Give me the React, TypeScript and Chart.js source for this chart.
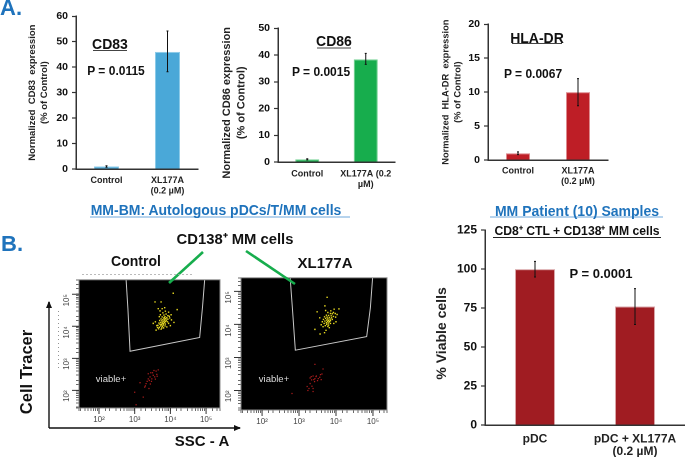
import React, { useEffect, useRef } from "react";
import { Chart, registerables } from "chart.js";

Chart.register(...registerables);

const FONT = '"Liberation Sans", Arial, sans-serif';

/* ---------- bar chart data ---------- */
const cd83Labels = ["Control", ["XL177A", "(0.2 µM)"]];
const cd83Values = [1, 46];
const cd83High = [1.3, 54.2];
const cd83Low = [0.7, 38.2];

const cd86Labels = ["Control", ["XL177A (0.2", "µM)"]];
const cd86Values = [1, 38.4];
const cd86High = [1.2, 40.6];
const cd86Low = [0.8, 36.5];

const hlaLabels = ["Control", ["XL177A", "(0.2 µM)"]];
const hlaValues = [1, 10];
const hlaHigh = [1.2, 12];
const hlaLow = [0.8, 8];

const viableLabels = ["pDC", ["pDC + XL177A", "(0.2 µM)"]];
const viableValues = [100, 76];
const viableHigh = [105, 87.5];
const viableLow = [95, 64.5];

/* ---------- flow cytometry data: [log10 SSC-A, log10 Cell Tracer] ---------- */
const controlGate = [[2.76, 5.45], [2.81, 4.55], [2.87, 3.22], [4.82, 3.65], [4.9, 4.6], [4.96, 5.45]];
const xlGate = [[2.76, 5.41], [2.82, 4.5], [2.9, 3.22], [4.83, 3.63], [4.93, 4.5], [4.99, 5.41]];

const controlYellow = [
  [4.08, 5.03], [3.57, 4.76], [3.74, 4.76], [4.19, 4.52], [3.66, 4.55], [3.77, 4.55], [3.52, 4.09], [3.6, 3.88],
  [3.74, 3.91], [3.84, 4.58], [3.71, 4.48], [3.86, 4.47], [3.95, 4.44], [3.79, 4.42], [3.88, 4.38], [3.72, 4.36],
  [3.82, 4.35], [3.93, 4.33], [4.02, 4.36], [3.85, 4.3], [3.77, 4.29], [3.9, 4.27], [3.98, 4.26], [3.82, 4.25],
  [3.87, 4.24], [3.74, 4.23], [3.93, 4.22], [3.79, 4.21], [3.84, 4.2], [3.89, 4.19], [4.03, 4.2], [3.7, 4.18],
  [3.76, 4.17], [3.82, 4.16], [3.87, 4.15], [3.92, 4.14], [3.79, 4.13], [3.73, 4.12], [3.84, 4.12], [3.68, 4.1],
  [3.77, 4.09], [3.81, 4.08], [3.86, 4.07], [3.95, 4.09], [3.71, 4.06], [3.75, 4.05], [3.8, 4.04], [3.65, 4.03],
  [3.73, 4.01], [3.78, 4.0], [3.85, 4.01], [3.69, 3.97], [3.76, 3.95], [3.62, 4.02], [3.81, 3.95], [3.67, 3.92],
  [4.1, 4.12], [4.0, 4.02], [3.58, 4.14], [3.9, 3.98], [3.97, 4.31], [3.69, 4.3], [3.64, 3.96], [3.83, 4.27],
];

const controlRed = [
  [3.66, 2.64], [3.6, 2.6], [3.45, 2.55], [3.38, 2.52], [3.62, 2.5], [3.43, 2.42], [3.52, 2.47], [3.48, 2.36],
  [3.38, 2.36], [3.32, 2.21], [3.15, 2.24], [3.3, 2.14], [3.44, 2.2], [3.4, 2.06], [3.0, 1.94], [3.24, 1.79],
  [3.04, 1.55], [3.56, 2.42], [3.5, 2.55], [3.41, 2.31], [3.35, 2.28], [3.47, 2.28], [3.58, 2.35], [3.28, 2.1],
  [3.54, 2.62], [3.63, 2.44],
];

const xlYellow = [
  [3.76, 4.82], [4.08, 4.47], [3.49, 4.38], [3.7, 4.56], [3.43, 3.85], [3.57, 3.71], [3.73, 3.82], [3.69, 3.75],
  [3.95, 4.46], [3.86, 4.41], [3.93, 4.36], [3.72, 4.42], [3.78, 4.36], [3.85, 4.33], [3.98, 4.33], [4.03, 4.3],
  [3.74, 4.28], [3.8, 4.27], [3.87, 4.26], [3.93, 4.24], [3.69, 4.23], [3.76, 4.22], [3.82, 4.21], [3.88, 4.2],
  [3.99, 4.22], [3.72, 4.18], [3.78, 4.17], [3.84, 4.16], [3.9, 4.15], [3.66, 4.15], [3.75, 4.13], [3.8, 4.12],
  [3.85, 4.11], [3.7, 4.1], [3.77, 4.09], [3.82, 4.08], [3.63, 4.08], [3.74, 4.05], [3.79, 4.04], [3.85, 4.03],
  [3.68, 4.03], [3.75, 4.0], [3.8, 3.98], [3.6, 3.99], [3.71, 3.96], [3.78, 3.94], [3.82, 3.9], [3.65, 3.93],
  [4.0, 4.08], [3.94, 4.03], [3.56, 4.2], [3.9, 4.32],
];

const xlRed = [
  [3.43, 2.79], [3.65, 2.65], [3.62, 2.5], [3.38, 2.44], [3.47, 2.44], [3.3, 2.38], [3.56, 2.4], [3.6, 2.33],
  [3.52, 2.36], [3.34, 2.32], [3.43, 2.36], [3.3, 2.21], [3.38, 2.06], [3.22, 2.12], [3.24, 2.0], [3.38, 1.97],
  [2.81, 1.91], [3.42, 2.27], [3.5, 2.3], [3.35, 2.13], [3.27, 2.06], [3.46, 2.42], [3.58, 2.48], [3.33, 2.42],
  [3.4, 2.33],
];

const toPoints = (rows: number[][]) => rows.map(([a, b]) => ({ x: 10 ** a, y: 10 ** b }));

const SUP: Record<number, string> = { 2: "10²", 3: "10³", 4: "10⁴", 5: "10⁵" };
const decade = (v: number) => {
  const e = Math.log10(v);
  return Math.abs(e - Math.round(e)) < 1e-6 ? Math.round(e) : null;
};

/* ---------- plugins ---------- */
const errorBars = (high: number[], low: number[]) => ({
  id: "errorBars",
  afterDatasetsDraw(chart: any) {
    const { ctx, scales } = chart;
    ctx.save();
    ctx.strokeStyle = "#111";
    ctx.lineWidth = 1;
    high.forEach((h, i) => {
      const x = scales.x.getPixelForTick(i);
      const y1 = scales.y.getPixelForValue(h);
      const y2 = scales.y.getPixelForValue(low[i]);
      ctx.beginPath();
      ctx.moveTo(x, y1);
      ctx.lineTo(x, y2);
      ctx.moveTo(x - 1, y1);
      ctx.lineTo(x + 1, y1);
      ctx.moveTo(x - 1, y2);
      ctx.lineTo(x + 1, y2);
      ctx.stroke();
    });
    ctx.restore();
  },
});

const flowFrame = {
  id: "flowFrame",
  beforeDatasetsDraw(chart: any) {
    const { ctx, chartArea: a } = chart;
    ctx.save();
    ctx.fillStyle = "#000";
    ctx.fillRect(a.left, a.top, a.right - a.left, a.bottom - a.top);
    ctx.restore();
  },
  afterDraw(chart: any) {
    const { ctx, chartArea: a, scales } = chart;
    ctx.save();
    ctx.strokeStyle = "#8a8a8a";
    ctx.lineWidth = 1;
    ctx.strokeRect(a.left, a.top, a.right - a.left, a.bottom - a.top);
    ctx.strokeStyle = "#333";
    ctx.beginPath();
    scales.x.ticks.forEach((t: any) => {
      if (decade(t.value) !== null) {
        const x = scales.x.getPixelForValue(t.value);
        ctx.moveTo(x, a.bottom);
        ctx.lineTo(x, a.bottom + 6);
      }
    });
    scales.y.ticks.forEach((t: any) => {
      if (decade(t.value) !== null) {
        const y = scales.y.getPixelForValue(t.value);
        ctx.moveTo(a.left, y);
        ctx.lineTo(a.left - 7, y);
      }
    });
    ctx.stroke();
    ctx.restore();
  },
};

/* ---------- builders ---------- */
type Box = { left: number; top: number; right: number; bottom: number };
const PAD_T = 10;
const PAD_R = 10;

function canvasStyle(b: Box, axisW: number, axisH: number): React.CSSProperties {
  return {
    position: "absolute",
    left: b.left - axisW,
    top: b.top - PAD_T,
    width: b.right - b.left + axisW + PAD_R,
    height: b.bottom - b.top + PAD_T + axisH,
  };
}

type BarSpec = {
  box: Box;
  axisW: number;
  axisH: number;
  labels: any[];
  values: number[];
  high: number[];
  low: number[];
  color: string;
  edge: string;
  yMax: number;
  step: number;
  title: string[];
  titleSize: number;
  tickSize: number;
  labelSize: number;
  labelLine: number;
  barPct: number;
  labelPad: number;
};

function BarPanel(s: BarSpec) {
  const ref = useRef<HTMLCanvasElement>(null);
  useEffect(() => {
    const c = ref.current!;
    const chart = new Chart(c, {
      type: "bar",
      data: {
        labels: s.labels,
        datasets: [
          {
            data: s.values,
            backgroundColor: s.color,
            borderColor: s.edge,
            borderWidth: 1,
            borderSkipped: "bottom",
            categoryPercentage: 1,
            barPercentage: s.barPct,
          },
        ],
      },
      options: {
        animation: false,
        responsive: false,
        devicePixelRatio: 2,
        layout: { padding: { top: PAD_T, right: PAD_R, left: 0, bottom: 0 } },
        plugins: { legend: { display: false }, tooltip: { enabled: false } },
        scales: {
          x: {
            grid: { display: false, drawTicks: false },
            border: { display: true, color: "#333", width: 1.5, z: 1 },
            afterFit: (sc: any) => {
              sc.height = s.axisH;
            },
            ticks: {
              color: "#222",
              font: { family: FONT, size: s.labelSize, weight: "bold", lineHeight: s.labelLine },
              padding: s.labelPad,
              maxRotation: 0,
              minRotation: 0,
              autoSkip: false,
            },
          },
          y: {
            min: 0,
            max: s.yMax,
            afterFit: (sc: any) => {
              sc.width = s.axisW;
            },
            grid: { drawOnChartArea: false, tickLength: 4, tickColor: "#333", tickWidth: 1.2 },
            border: { display: true, color: "#333", width: 1.5, z: 1 },
            ticks: {
              stepSize: s.step,
              color: "#111",
              padding: 4,
              font: { family: FONT, size: s.tickSize, weight: "bold" },
            },
            title: {
              display: true,
              text: s.title,
              color: "#222",
              padding: 0,
              font: { family: FONT, size: s.titleSize, weight: "bold", lineHeight: 1.3 },
            },
          },
        },
      } as any,
      plugins: [errorBars(s.high, s.low)],
    });
    return () => chart.destroy();
  }, []);
  const st = canvasStyle(s.box, s.axisW, s.axisH);
  return <canvas ref={ref} width={st.width as number} height={st.height as number} style={st} />;
}

type FlowSpec = {
  box: Box;
  gate: number[][];
  yellow: number[][];
  red: number[][];
  xRange: [number, number];
  yRange: [number, number];
};

function FlowPanel(s: FlowSpec) {
  const ref = useRef<HTMLCanvasElement>(null);
  const axisW = 24;
  const axisH = 22;
  useEffect(() => {
    const label = (v: number) => {
      const d = decade(v);
      return d !== null && SUP[d] ? SUP[d] : "";
    };
    const chart = new Chart(ref.current!, {
      type: "scatter",
      data: {
        datasets: [
          {
            data: toPoints(s.gate),
            showLine: true,
            borderColor: "#c9c9c9",
            borderWidth: 1,
            pointRadius: 0,
          },
          { data: toPoints(s.yellow), backgroundColor: "#e6d820", borderWidth: 0, pointRadius: 1, pointStyle: "rect" },
          { data: toPoints(s.red), backgroundColor: "#a81c1c", borderWidth: 0, pointRadius: 0.9, pointStyle: "rect" },
        ],
      },
      options: {
        animation: false,
        responsive: false,
        devicePixelRatio: 2,
        layout: { padding: { top: PAD_T, right: PAD_R, left: 0, bottom: 0 } },
        plugins: { legend: { display: false }, tooltip: { enabled: false } },
        scales: {
          x: {
            type: "logarithmic",
            min: 10 ** s.xRange[0],
            max: 10 ** s.xRange[1],
            afterFit: (sc: any) => {
              sc.height = axisH;
            },
            grid: { drawOnChartArea: false, tickLength: 3, tickColor: "#444", tickWidth: 0.8 },
            border: { display: false },
            ticks: {
              autoSkip: false,
              maxRotation: 0,
              minRotation: 0,
              padding: 4,
              color: "#444",
              font: { family: FONT, size: 8 },
              callback: label,
            },
          },
          y: {
            type: "logarithmic",
            min: 10 ** s.yRange[0],
            max: 10 ** s.yRange[1],
            afterFit: (sc: any) => {
              sc.width = axisW;
            },
            grid: { drawOnChartArea: false, tickLength: 3, tickColor: "#444", tickWidth: 0.8 },
            border: { display: false },
            ticks: {
              autoSkip: false,
              minRotation: 90,
              maxRotation: 90,
              padding: 9,
              color: "#444",
              font: { family: FONT, size: 8 },
              callback: label,
            },
          },
        },
      } as any,
      plugins: [flowFrame],
    });
    return () => chart.destroy();
  }, []);
  const st = canvasStyle(s.box, axisW, axisH);
  return <canvas ref={ref} width={st.width as number} height={st.height as number} style={st} />;
}

function Txt(p: { x: number; y: number; size: number; color?: string; weight?: string; rot?: number; children: React.ReactNode }) {
  return (
    <div
      style={{
        position: "absolute",
        left: p.x,
        top: p.y,
        transform: `translate(-50%,-50%)${p.rot ? ` rotate(${p.rot}deg)` : ""}`,
        fontFamily: FONT,
        fontSize: p.size,
        fontWeight: (p.weight ?? "bold") as any,
        color: p.color ?? "#111",
        whiteSpace: "nowrap",
        lineHeight: 1,
      }}
    >
      {p.children}
    </div>
  );
}

const BLUE = "#1f73bc";

export default function App() {
  return (
    <div style={{ position: "absolute", left: 0, top: 0, width: 685, height: 457, overflow: "hidden", background: "#fff", filter: "blur(0.3px)" }}>
      <BarPanel
        box={{ left: 76, top: 16, right: 198, bottom: 169 }}
        axisW={50}
        axisH={36}
        labels={cd83Labels}
        values={cd83Values}
        high={cd83High}
        low={cd83Low}
        color="#4aa8d8"
        edge="#8ccbe8"
        yMax={60}
        step={10}
        title={["Normalized  CD83  expression", "(% of Control)"]}
        titleSize={9.5}
        tickSize={10.5}
        labelSize={9}
        labelLine={1.2}
        barPct={0.41}
        labelPad={6}
      />
      <BarPanel
        box={{ left: 278, top: 28, right: 395, bottom: 162 }}
        axisW={58}
        axisH={36}
        labels={cd86Labels}
        values={cd86Values}
        high={cd86High}
        low={cd86Low}
        color="#17ad4d"
        edge="#6fcf8f"
        yMax={50}
        step={10}
        title={["Normalized CD86 expression     ", "(% of Control)     "]}
        titleSize={11}
        tickSize={10.5}
        labelSize={9}
        labelLine={1.2}
        barPct={0.41}
        labelPad={6.5}
      />
      <BarPanel
        box={{ left: 488, top: 24, right: 608, bottom: 160 }}
        axisW={48}
        axisH={36}
        labels={hlaLabels}
        values={hlaValues}
        high={hlaHigh}
        low={hlaLow}
        color="#be1e26"
        edge="#dd8a8e"
        yMax={20}
        step={5}
        title={["Normalized  HLA-DR  expression", "(% of Control)"]}
        titleSize={9.3}
        tickSize={10.5}
        labelSize={9}
        labelLine={1.2}
        barPct={0.4}
        labelPad={5.5}
      />
      <BarPanel
        box={{ left: 485, top: 229, right: 685, bottom: 425 }}
        axisW={52}
        axisH={34}
        labels={viableLabels}
        values={viableValues}
        high={viableHigh}
        low={viableLow}
        color="#a01c22"
        edge="#d9a5a8"
        yMax={125}
        step={25}
        title={["% Viable cells   "]}
        titleSize={14}
        tickSize={12}
        labelSize={12}
        labelLine={1.05}
        barPct={0.4}
        labelPad={8}
      />
      <FlowPanel
        box={{ left: 79, top: 276, right: 220, bottom: 408 }}
        gate={controlGate}
        yellow={controlYellow}
        red={controlRed}
        xRange={[1.44, 5.39]}
        yRange={[1.45, 5.45]}
      />
      <FlowPanel
        box={{ left: 241, top: 274, right: 387, bottom: 410 }}
        gate={xlGate}
        yellow={xlYellow}
        red={xlRed}
        xRange={[1.43, 5.38]}
        yRange={[1.41, 5.41]}
      />

      <svg width={685} height={457} style={{ position: "absolute", left: 0, top: 0 }}>
        <defs>
          <marker id="head" markerWidth="7" markerHeight="6" refX="6" refY="3" orient="auto" markerUnits="userSpaceOnUse">
            <path d="M0,0 L7,3 L0,6 Z" fill="#111" />
          </marker>
        </defs>
        {/* heading and title rules */}
        <line x1={90} y1={217} x2={350} y2={217} stroke="#6fa8dc" strokeWidth={1} />
        <line x1={490} y1={217} x2={663} y2={217} stroke="#6fa8dc" strokeWidth={1} />
        <line x1={493} y1={237.5} x2={661} y2={237.5} stroke="#222" strokeWidth={1} />
        <line x1={93} y1={50.5} x2={127} y2={50.5} stroke="#444" strokeWidth={1} />
        <line x1={317} y1={48} x2={351} y2={48} stroke="#444" strokeWidth={1} />
        <line x1={512} y1={43.5} x2={562} y2={43.5} stroke="#444" strokeWidth={1} />
        {/* pointer lines */}
        <line x1={203} y1={252} x2={169} y2={283} stroke="#17ad4d" strokeWidth={2.6} />
        <line x1={246} y1={251} x2={295} y2={284} stroke="#17ad4d" strokeWidth={2.6} />
        {/* flow axes arrows */}
        <line x1={49} y1={428} x2={49} y2={302} stroke="#111" strokeWidth={1.4} markerEnd="url(#head)" />
        <line x1={49} y1={428} x2={240} y2={428} stroke="#111" strokeWidth={1.4} markerEnd="url(#head)" />
        {/* faint scan marks */}
        <line x1={58.5} y1={311} x2={58.5} y2={368} stroke="#777" strokeWidth={0.8} strokeDasharray="1 3" />
        <line x1={82} y1={274.5} x2={192} y2={274.5} stroke="#aaa" strokeWidth={0.8} strokeDasharray="2 2" />
      </svg>

      <Txt x={11} y={8} size={22} color={BLUE}>A.</Txt>
      <Txt x={12} y={244} size={22} color={BLUE}>B.</Txt>

      <Txt x={110} y={44} size={14}>CD83</Txt>
      <Txt x={116} y={71} size={12}>P = 0.0115</Txt>
      <Txt x={334} y={41} size={14}>CD86</Txt>
      <Txt x={321} y={72} size={12}>P = 0.0015</Txt>
      <Txt x={537} y={38} size={14}>HLA-DR</Txt>
      <Txt x={533} y={74} size={12}>P = 0.0067</Txt>

      <Txt x={216} y={210} size={14} color={BLUE}>MM-BM: Autologous pDCs/T/MM cells</Txt>
      <Txt x={577} y={211} size={14} color={BLUE}>MM Patient (10) Samples</Txt>
      <Txt x={577} y={231} size={12.2}>CD8⁺ CTL + CD138⁺ MM cells</Txt>
      <Txt x={601} y={273} size={13}>P = 0.0001</Txt>

      <Txt x={235} y={239} size={14.8}>CD138⁺ MM cells</Txt>
      <Txt x={136} y={261} size={14}>Control</Txt>
      <Txt x={325} y={262} size={15}>XL177A</Txt>
      <Txt x={111} y={379} size={9.5} weight="normal" color="#ddd">viable+</Txt>
      <Txt x={274} y={379} size={9.5} weight="normal" color="#ddd">viable+</Txt>
      <Txt x={26} y={372} size={16.5} rot={-90}>Cell Tracer</Txt>
      <Txt x={202} y={440} size={15}>SSC - A</Txt>
    </div>
  );
}
